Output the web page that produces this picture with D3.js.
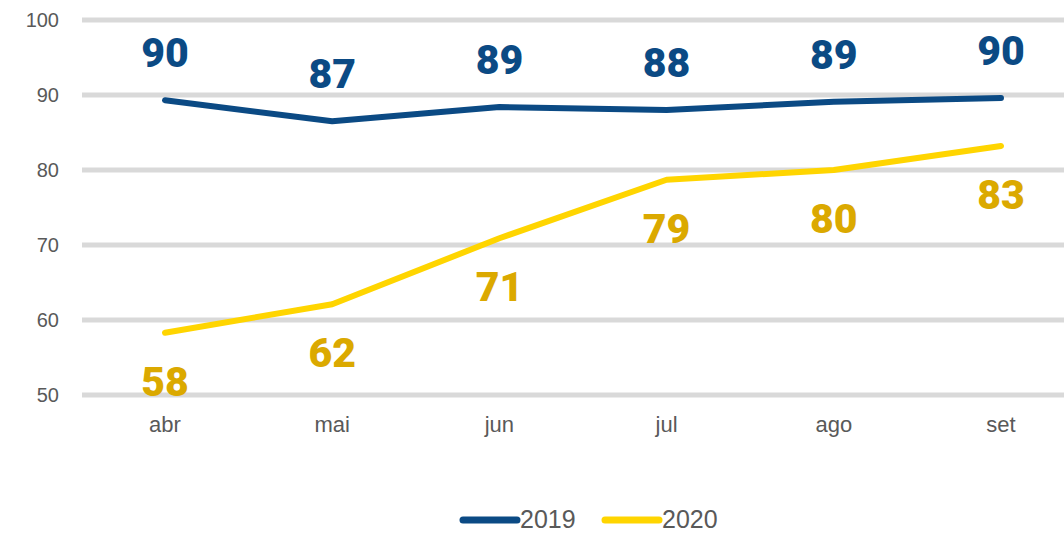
<!DOCTYPE html>
<html lang="en">
<head>
  <meta charset="utf-8" />
  <title>2019 x 2020</title>
  <script src="https://cdn.jsdelivr.net/npm/d3@7"></script>
  <style>
body{
  margin: 0;
  background: #ffffff;
}
  </style>
</head>
<body>
  <svg id="chart"></svg>
  <script>
  // data
  const months = ['abr', 'mai', 'jun', 'jul', 'ago', 'set'];
  const values2019 = [89.3, 86.5, 88.4, 88.0, 89.1, 89.6];
  const values2020 = [58.3, 62.1, 70.9, 78.7, 80.0, 83.2];
  const labels2019 = [90, 87, 89, 88, 89, 90];
  const labels2020 = [58, 62, 71, 79, 80, 83];
  const yTicks = [50, 60, 70, 80, 90, 100];

  const series = [
    {name: '2019', values: values2019, labels: labels2019, line: '#0b4a84', text: '#0b4a84', dy: -48},
    {name: '2020', values: values2020, labels: labels2020, line: '#ffd500', text: '#dba900', dy: 48}
  ];

  const width = 1064, height = 534;
  const axisFont = '"Liberation Sans", Arial, sans-serif';

  const svg = d3.select('#chart')
      .attr('width', width)
      .attr('height', height);

  const x = d3.scalePoint()
      .domain(months)
      .range([165, 1001]);

  const y = d3.scaleLinear()
      .domain([50, 100])
      .range([395, 20]);

  // gridlines
  svg.append('g')
      .attr('class', 'grid')
    .selectAll('line')
    .data(yTicks)
    .enter().append('line')
      .attr('x1', 82)
      .attr('x2', width)
      .attr('y1', d => y(d))
      .attr('y2', d => y(d))
      .attr('stroke', '#d9d9d9')
      .attr('stroke-width', 5);

  // y axis labels
  svg.append('g')
      .attr('font-family', axisFont)
      .attr('font-size', 20)
      .attr('fill', '#595959')
      .attr('text-anchor', 'end')
    .selectAll('text')
    .data(yTicks)
    .enter().append('text')
      .attr('x', 59)
      .attr('y', d => y(d))
      .attr('dy', '0.35em')
      .text(d => d);

  // x axis labels
  svg.append('g')
      .attr('font-family', axisFont)
      .attr('font-size', 22)
      .attr('fill', '#595959')
      .attr('text-anchor', 'middle')
    .selectAll('text')
    .data(months)
    .enter().append('text')
      .attr('x', d => x(d))
      .attr('y', 432)
      .text(d => d);

  const line = d3.line()
      .x((d, i) => x(months[i]))
      .y(d => y(d));

  series.forEach(s => {
    svg.append('path')
        .datum(s.values)
        .attr('d', line)
        .attr('fill', 'none')
        .attr('stroke', s.line)
        .attr('stroke-width', 6)
        .attr('stroke-linecap', 'round')
        .attr('stroke-linejoin', 'round');

    svg.append('g')
        .attr('fill', s.text)
        .attr('text-anchor', 'middle')
        .attr('font-family', 'Roboto, sans-serif')
        .attr('font-weight', 900)
        .attr('font-size', 41)
      .selectAll('text')
      .data(s.labels)
      .enter().append('text')
        .attr('x', (d, i) => x(months[i]))
        .attr('y', (d, i) => y(s.values[i]) + s.dy)
        .attr('dy', '0.36em')
        .text(d => d);
  });

  // legend
  const legend = svg.append('g')
      .attr('font-family', axisFont)
      .attr('font-size', 25)
      .attr('fill', '#595959');

  const legendX = [463, 605];
  series.forEach((s, i) => {
    const g = legend.append('g').attr('transform', `translate(${legendX[i]},520)`);
    g.append('line')
        .attr('x1', 0)
        .attr('x2', 54)
        .attr('stroke', s.line)
        .attr('stroke-width', 7)
        .attr('stroke-linecap', 'round');
    g.append('text')
        .attr('x', 57)
        .attr('y', 8)
        .text(s.name);
  });
  </script>
</body>
</html>
